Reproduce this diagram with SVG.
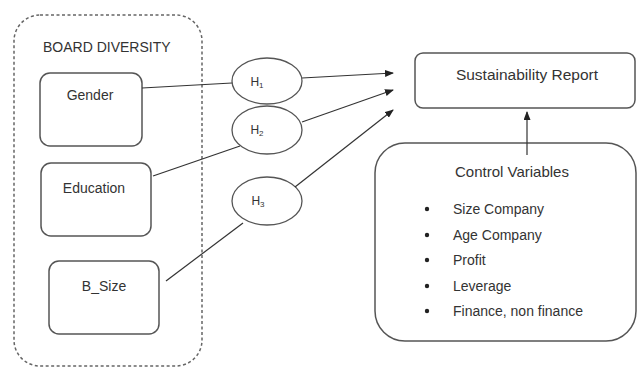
<svg xmlns="http://www.w3.org/2000/svg" width="637" height="368" viewBox="0 0 637 368">
<style>
text{font-family:"Liberation Sans",Arial,sans-serif;fill:#333;font-size:14px}
.box{fill:#fff;stroke:#555;stroke-width:1.5}
.ell{fill:#fff;stroke:#555;stroke-width:1.3}
.ln{stroke:#333;stroke-width:1.2;fill:none}
.hl{font-size:12px}
.sub{font-size:8px}
</style>
<defs>
<marker id="ah" markerWidth="9" markerHeight="7" refX="8" refY="3.5" orient="auto" markerUnits="userSpaceOnUse">
<path d="M0,0 L9,3.5 L0,7 Z" fill="#222"/>
</marker>
</defs>
<rect width="637" height="368" fill="#fff"/>
<g id="board">
<rect x="14" y="15" width="188" height="351" rx="26" fill="none" stroke="#666" stroke-width="1.5" stroke-dasharray="3,2.5"/>
<text x="43" y="52">BOARD DIVERSITY</text>
</g>
<g id="gender"><rect class="box" x="40" y="73" width="102" height="73" rx="10"/><text x="90" y="100" text-anchor="middle">Gender</text></g>
<g id="education"><rect class="box" x="41" y="163" width="110" height="73" rx="10"/><text x="94" y="193" text-anchor="middle">Education</text></g>
<g id="bsize"><rect class="box" x="49" y="261" width="110" height="73" rx="10"/><text x="104" y="291" text-anchor="middle">B_Size</text></g>
<g id="h1"><ellipse class="ell" cx="267" cy="81" rx="35" ry="23"/><text class="hl" x="257" y="86" text-anchor="middle">H<tspan class="sub" dy="2">1</tspan></text></g>
<g id="h2"><ellipse class="ell" cx="267" cy="130" rx="35" ry="24"/><text class="hl" x="257" y="134" text-anchor="middle">H<tspan class="sub" dy="2">2</tspan></text></g>
<g id="h3"><ellipse class="ell" cx="267" cy="201" rx="35" ry="24"/><text class="hl" x="258" y="205" text-anchor="middle">H<tspan class="sub" dy="2">3</tspan></text></g>
<g id="report"><rect class="box" x="415" y="53" width="220" height="55" rx="8"/><text x="527" y="80" text-anchor="middle" style="font-size:15.5px">Sustainability Report</text></g>
<g id="control">
<rect class="box" x="375" y="143" width="261" height="198" rx="30"/>
<text x="512" y="177" text-anchor="middle" style="font-size:15px">Control Variables</text>
<g style="font-size:14px">
<circle cx="427" cy="209" r="2.2" fill="#222"/><text x="453" y="214">Size Company</text>
<circle cx="427" cy="235" r="2.2" fill="#222"/><text x="453" y="240">Age Company</text>
<circle cx="427" cy="260" r="2.2" fill="#222"/><text x="453" y="265">Profit</text>
<circle cx="427" cy="286" r="2.2" fill="#222"/><text x="453" y="291">Leverage</text>
<circle cx="427" cy="311" r="2.2" fill="#222"/><text x="453" y="316">Finance, non finance</text>
</g>
</g>
<g id="connectors">
<line class="ln" x1="142" y1="88" x2="232" y2="83"/>
<line class="ln" x1="153" y1="176" x2="240" y2="146"/>
<line class="ln" x1="166" y1="281" x2="243" y2="223"/>
<line class="ln" x1="302" y1="78" x2="393" y2="73" marker-end="url(#ah)"/>
<line class="ln" x1="302" y1="122" x2="393" y2="90" marker-end="url(#ah)"/>
<line class="ln" x1="295" y1="187" x2="393" y2="110" marker-end="url(#ah)"/>
<line class="ln" x1="527" y1="155" x2="527" y2="112" marker-end="url(#ah)"/>
</g>
</svg>
